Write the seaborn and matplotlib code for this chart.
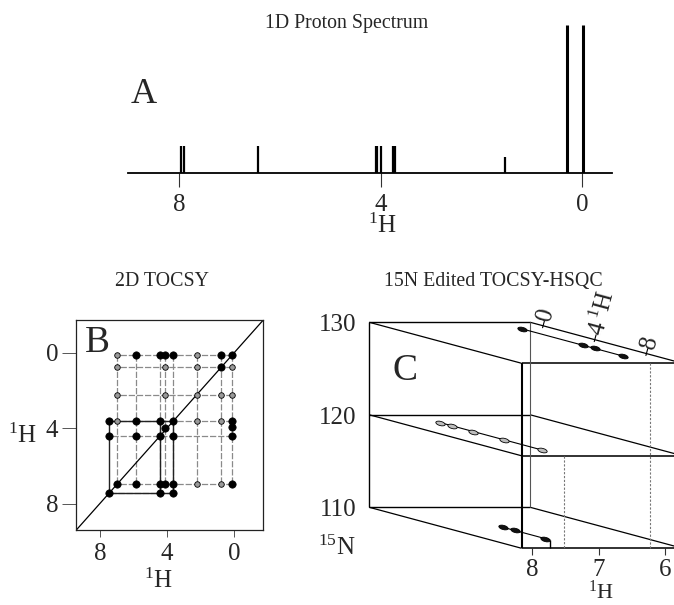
import numpy as np
import pandas as pd
import seaborn as sns
import matplotlib
matplotlib.use("Agg")
import matplotlib.pyplot as plt
from matplotlib.markers import MarkerStyle
from matplotlib.transforms import Affine2D

# ---------------- data ----------------
# 1D proton spectrum: line positions (ppm) and relative intensities
peak_ppm = [7.955, 7.89, 6.42, 4.10, 4.07, 3.99, 3.76, 3.71, 1.53, 0.31, -0.01]
peak_height = [0.185, 0.185, 0.185, 0.185, 0.185, 0.185, 0.185, 0.185, 0.108, 1.0, 1.0]
spec_ticks = [8, 4, 0]

# 2D TOCSY cross peaks (F2 = horizontal, F1 = vertical), strong / weak
shift = {"a": 7.46, "b": 6.97, "p": 5.86, "c": 4.41, "q": 4.11,
         "d": 3.62, "e": 2.21, "f": 0.75, "g": 0.09}
tocsy_rows = {
    "g": [("b", "w"), ("p", "s"), ("c", "s"), ("q", "s"), ("d", "s"), ("e", "w"), ("f", "s"), ("g", "s")],
    "f": [("b", "w"), ("q", "w"), ("e", "w"), ("f", "s"), ("g", "w")],
    "e": [("b", "w"), ("q", "w"), ("e", "w"), ("f", "w"), ("g", "w")],
    "d": [("a", "s"), ("b", "w"), ("p", "s"), ("c", "s"), ("d", "s"), ("e", "w"), ("f", "w"), ("g", "s")],
    "c": [("a", "s"), ("p", "s"), ("c", "s"), ("d", "s"), ("g", "s")],
    "b": [("b", "s"), ("p", "s"), ("c", "s"), ("q", "s"), ("d", "s"), ("e", "w"), ("f", "w"), ("g", "s")],
    "a": [("a", "s"), ("c", "s"), ("d", "s")],
}
extra_f2 = [0.09, 4.11]
extra_f1 = [3.95, 3.99]
# one spin system traced with solid connectors
spin_cols = ["a", "c", "d"]
spin_rows = ["d", "a"]
tocsy_ticks = [8, 4, 0]
tocsy_lims = (9.4, -1.75)

# 15N edited TOCSY-HSQC cube
h_face = [8.16, 5.74]          # 1H (amide) extent of the faces
n_planes = [130, 120, 110]     # 15N planes
depth_range = [-1.0, 10.8]     # TOCSY 1H along the depth axis
depth_ticks = [0, 4, 8]
amide_ticks = [8, 7, 6]
strip_n = [130, 120, 110.9]
strip_h = [6.23, 7.53, 7.73]
strip_depths = [[0.92, 5.64, 6.54, 8.73],
                [1.23, 2.14, 3.81, 6.19, 9.10],
                [7.16, 8.07, 10.39]]
strip_fill = ["#111111", "#bdbdbd", "#111111"]

# ---------------- style ----------------
sns.set_theme(style="ticks")
plt.rcParams["font.family"] = ["Liberation Serif", "DejaVu Serif"]
plt.rcParams["mathtext.fontset"] = "custom"
plt.rcParams["mathtext.rm"] = "Liberation Serif"
plt.rcParams["mathtext.it"] = "Liberation Serif:italic"
plt.rcParams["mathtext.bf"] = "Liberation Serif:bold"

W, H = 674, 605
fig = plt.figure(figsize=(W / 100, H / 100), dpi=100)
fig.patch.set_facecolor("white")


def rect(x0, y0, x1, y1):
    return [x0 / W, 1 - y1 / H, (x1 - x0) / W, (y1 - y0) / H]


def ftext(x, y, s, **kw):
    return fig.text(x / W, 1 - y / H, s, **kw)


TICK = dict(fontsize=18)
TITLE = 14.3

# ---------------- A: 1D spectrum ----------------
axA = fig.add_axes(rect(128.3, 24.5, 611.7, 173.3))
peaks = pd.DataFrame({"ppm": peak_ppm, "height": peak_height})
small = peaks[peaks["height"] < 0.5]
tall = peaks[peaks["height"] >= 0.5]
axA.vlines(small["ppm"], 0, small["height"], color="black", lw=1.6)
axA.vlines(tall["ppm"], 0, tall["height"], color="black", lw=2.2)
axA.set_xlim(9.0, -0.58)
axA.set_ylim(0, 1.0)
for s in ["top", "right", "left"]:
    axA.spines[s].set_visible(False)
axA.spines["bottom"].set_linewidth(1.3)
axA.spines["bottom"].set_color("black")
axA.set_yticks([])
axA.set_xticks(spec_ticks)
axA.set_xticklabels([str(t) for t in spec_ticks], **TICK)
axA.tick_params(axis="x", direction="out", length=10, width=0.8, pad=5,
                color="#333333", bottom=True)
axA.set_facecolor("none")
ftext(346.7, 28.3, "1D Proton Spectrum", fontsize=TITLE, ha="center", va="baseline")
ftext(131, 103.3, "A", fontsize=26, ha="left", va="baseline")
ftext(382.5, 233.3, r"$^{1}$H", fontsize=18, ha="center", va="baseline")

# ---------------- B: 2D TOCSY ----------------
recs = []
for r, items in tocsy_rows.items():
    for c, k in items:
        recs.append({"f2": shift[c], "f1": shift[r], "col": c, "row": r,
                     "kind": "strong" if k == "s" else "weak"})
for x, y in zip(extra_f2, extra_f1):
    recs.append({"f2": x, "f1": y, "col": "x", "row": "x", "kind": "strong"})
tocsy = pd.DataFrame(recs)

axB = fig.add_axes(rect(76.3, 320, 263.3, 530))
axB.set_xlim(tocsy_lims)
axB.set_ylim(tocsy_lims)

grid = tocsy[tocsy["col"] != "x"]
dash = (0, (5, 1.5))
for c, g in grid.groupby("col"):
    if c == spin_cols[0]:
        continue
    axB.plot([shift[c], shift[c]], [g["f1"].min(), g["f1"].max()],
             color="#8a8a8a", lw=0.9, ls=dash, zorder=1)
for r, g in grid.groupby("row"):
    axB.plot([g["f2"].min(), g["f2"].max()], [shift[r], shift[r]],
             color="#8a8a8a", lw=0.9, ls=dash, zorder=1)
for c in spin_cols:
    axB.plot([shift[c], shift[c]], [shift[spin_rows[0]], shift[spin_rows[1]]],
             color="#222222", lw=1.0, zorder=2)
for r in spin_rows:
    axB.plot([shift[spin_cols[0]], shift[spin_cols[-1]]], [shift[r], shift[r]],
             color="#222222", lw=1.0, zorder=2)
axB.plot(tocsy_lims, tocsy_lims, color="black", lw=0.9, zorder=2)

sns.scatterplot(data=tocsy[tocsy["kind"] == "weak"], x="f2", y="f1", ax=axB,
                s=16, color="#9a9a9a", edgecolor="black", linewidth=0.6,
                legend=False, zorder=3)
sns.scatterplot(data=tocsy[tocsy["kind"] == "strong"], x="f2", y="f1", ax=axB,
                s=28, color="black", edgecolor="black", linewidth=0.5,
                legend=False, zorder=4)
axB.set_xlabel("")
axB.set_ylabel("")
for s in axB.spines.values():
    s.set_color("#222222")
    s.set_linewidth(0.9)
axB.set_xticks(tocsy_ticks)
axB.set_xticklabels([str(t) for t in tocsy_ticks], **TICK)
axB.set_yticks(tocsy_ticks)
axB.set_yticklabels([str(t) for t in tocsy_ticks], **TICK)
axB.tick_params(axis="x", direction="out", length=5, width=0.7, pad=4, color="#555555")
axB.tick_params(axis="y", direction="out", length=10, width=0.7, pad=3, color="#555555")
ftext(162, 286, "2D TOCSY", fontsize=TITLE, ha="center", va="baseline")
ftext(85, 351.7, "B", fontsize=27, ha="left", va="baseline")
ftext(158, 588, r"$^{1}$H", fontsize=18, ha="center", va="baseline")
ftext(22, 443, r"$^{1}$H", fontsize=18, ha="center", va="baseline")

# ---------------- C: 15N edited TOCSY-HSQC cube ----------------
D0, D1 = depth_range
depth_len = D1 - D0
KX = 152.4 / 66.5 / depth_len     # 1H shift per depth unit
KY = 41.0 / 9.25 / depth_len      # 15N shift per depth unit


def proj(h, n, d):
    return h + (D1 - d) * KX, n - (d - D0) * KY


c_left, c_right, c_top, c_bot = 300, 674, 290, 548.3
x_hi = 8 + (532.3 - c_left) / 66.5
x_lo = 8 - (c_right - 532.3) / 66.5
n_lo = min(n_planes) - depth_len * KY
n_hi = n_lo + (c_bot - c_top) / 9.25
axC = fig.add_axes(rect(c_left, c_top, c_right, c_bot))
axC.set_xlim(x_hi, x_lo)
axC.set_ylim(n_lo, n_hi)
axC.set_facecolor("none")
px_x = (c_right - c_left) / (x_hi - x_lo)
px_y = (c_bot - c_top) / (n_hi - n_lo)


def seg(p, q, **kw):
    (x1, y1), (x2, y2) = proj(*p), proj(*q)
    kw.setdefault("color", "black")
    kw.setdefault("lw", 1.0)
    axC.plot([x1, x2], [y1, y2], clip_on=False, solid_capstyle="butt", **kw)


hL, hR = h_face
n_top, n_bot = max(n_planes), min(n_planes)
for n in n_planes:
    seg((hL, n, D0), (hR, n, D0), lw=1.0)
    seg((hL, n, D1), (hR, n, D1), lw=1.3, color="#222222")
    seg((hL, n, D0), (hL, n, D1), lw=0.9)
    seg((hR, n, D0), (hR, n, D1), lw=0.9)
seg((hL, n_top, D0), (hL, n_bot, D0), lw=1.0)
seg((hR, n_top, D0), (hR, n_bot, D0), lw=0.8, color="#555555")
seg((hL, n_top, D1), (hL, n_bot, D1), lw=1.5)
seg((hR, n_top, D1), (hR, n_bot, D1), lw=1.0)

# strip guides down to the amide axis
seg((strip_h[0], strip_n[0], D1), (strip_h[0], n_bot, D1), lw=0.8,
    color="#777777", ls=(0, (2, 1.5)))
seg((strip_h[1], strip_n[1], D1), (strip_h[1], n_bot, D1), lw=0.8,
    color="#777777", ls=(0, (2, 1.5)))
seg((strip_h[2], strip_n[2], D1), (strip_h[2], n_bot, D1), lw=1.0)

ell = MarkerStyle("o", transform=Affine2D().scale(2.3, 1.0).rotate_deg(-15))
for i, (n, h, deps) in enumerate(zip(strip_n, strip_h, strip_depths)):
    end = D1 if i == 2 else deps[-1]
    seg((h, n, deps[0]), (h, n, end), lw=0.8)
    pts = np.array([proj(h, n, d) for d in deps])
    axC.scatter(pts[:, 0], pts[:, 1], marker=ell, s=9, facecolor=strip_fill[i],
                edgecolor="black", linewidths=0.6, zorder=5, clip_on=False)

# depth axis ticks along the top right edge
ux, uy = 0.259, 0.966   # outward normal of that edge in screen units
for t in depth_ticks:
    x0, y0 = proj(hR, n_top, t)
    axC.plot([x0 + 2 * ux / px_x, x0 - 5 * ux / px_x],
             [y0 - 2 * uy / px_y, y0 + 5 * uy / px_y],
             color="black", lw=0.8, clip_on=False)
    axC.annotate(str(t), xy=(x0, y0), xytext=(12 * ux * 0.72, 12 * uy * 0.72),
                 textcoords="offset points", rotation=75, ha="center",
                 va="center", **TICK)
x4, y4 = proj(hR, n_top, depth_ticks[1])
axC.annotate(r"$^{1}$H", xy=(x4, y4), xytext=(35 * ux * 0.72, 35 * uy * 0.72),
             textcoords="offset points", rotation=75, ha="center", va="center",
             fontsize=18)

# 15N labels on the back face
for n in n_planes:
    xb, yb = proj(hL, n, D0)
    axC.annotate(str(n), xy=(xb, yb), xytext=(-9, -2), textcoords="offset points",
                 ha="right", va="center", **TICK)

for s in axC.spines.values():
    s.set_visible(False)
axC.set_yticks([])
axC.set_xticks(amide_ticks)
axC.set_xticklabels([str(t) for t in amide_ticks], **TICK)
axC.tick_params(axis="x", direction="out", length=5, width=0.8, pad=3,
                color="#333333", bottom=True)

ftext(493, 286, "15N Edited TOCSY-HSQC", fontsize=TITLE, ha="center", va="baseline")
ftext(393, 380, "C", fontsize=27, ha="left", va="baseline")
ftext(318, 555, r"$^{15}$N", fontsize=18, ha="left", va="baseline")
ftext(601, 604, r"$^{1}$H", fontsize=16, ha="center", va="bottom")

fig.savefig("out.png", dpi=100, facecolor="white")
